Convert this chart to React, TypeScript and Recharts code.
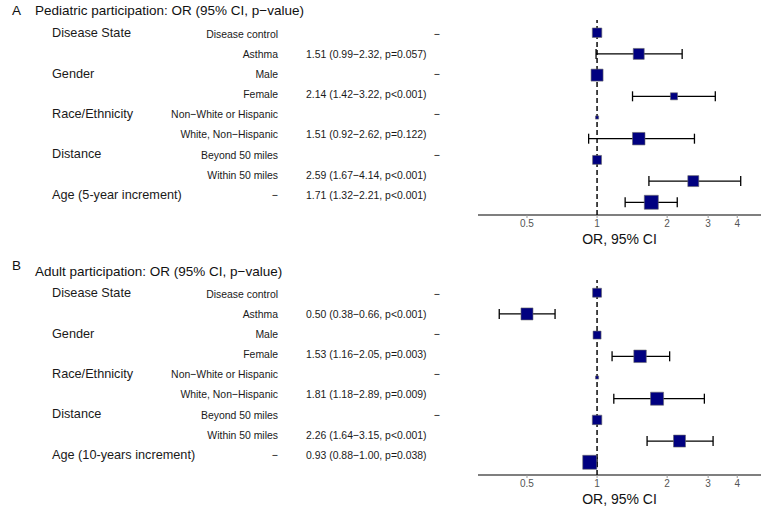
import React from "react";
import { ScatterChart, Scatter, XAxis, YAxis, ZAxis, ErrorBar, ReferenceLine } from "recharts";

// ---------- Data ----------
const xTicks = [0.5, 1, 2, 3, 4];

const groupLabelsA = ["Disease State", "", "Gender", "", "Race/Ethnicity", "", "Distance", "", "Age (5-year increment)"];
const subgroupLabelsA = ["Disease control", "Asthma", "Male", "Female", "Non\u2212White or Hispanic", "White, Non\u2212Hispanic", "Beyond 50 miles", "Within 50 miles", "\u2212"];
const orTextA = ["\u2212", "1.51 (0.99\u22122.32, p=0.057)", "\u2212", "2.14 (1.42\u22123.22, p<0.001)", "\u2212", "1.51 (0.92\u22122.62, p=0.122)", "\u2212", "2.59 (1.67\u22124.14, p<0.001)", "1.71 (1.32\u22122.21, p<0.001)"];
const orA = [1, 1.51, 1, 2.14, 1, 1.51, 1, 2.59, 1.71];
const lowerA: (number | null)[] = [null, 0.99, null, 1.42, null, 0.92, null, 1.67, 1.32];
const upperA: (number | null)[] = [null, 2.32, null, 3.22, null, 2.62, null, 4.14, 2.21];
const weightsA = [45, 60, 72, 25, 5, 78, 40, 60, 98];

const groupLabelsB = ["Disease State", "", "Gender", "", "Race/Ethnicity", "", "Distance", "", "Age (10-years increment)"];
const subgroupLabelsB = ["Disease control", "Asthma", "Male", "Female", "Non\u2212White or Hispanic", "White, Non\u2212Hispanic", "Beyond 50 miles", "Within 50 miles", "\u2212"];
const orTextB = ["\u2212", "0.50 (0.38\u22120.66, p<0.001)", "\u2212", "1.53 (1.16\u22122.05, p=0.003)", "\u2212", "1.81 (1.18\u22122.89, p=0.009)", "\u2212", "2.26 (1.64\u22123.15, p<0.001)", "0.93 (0.88\u22121.00, p=0.038)"];
const orB = [1, 0.5, 1, 1.53, 1, 1.81, 1, 2.26, 0.93];
const lowerB: (number | null)[] = [null, 0.38, null, 1.16, null, 1.18, null, 1.64, 0.88];
const upperB: (number | null)[] = [null, 0.66, null, 2.05, null, 2.89, null, 3.15, 1.0];
const weightsB = [40, 72, 32, 78, 5, 85, 45, 72, 98];

const titleA = "Pediatric participation: OR (95% CI, p\u2212value)";
const titleB = "Adult participation: OR (95% CI, p\u2212value)";

// ---------- Layout ----------
const W = 763;
const PANEL_H = 247;
const FONT = "'Liberation Sans', Arial, Helvetica, sans-serif";
const SMALL = 11.6;
const SQX = 0.9;

type PanelProps = {
  top: number;
  letter: string;
  letterY: number;
  title: string;
  titleY: number;
  groups: string[];
  subgroups: string[];
  orText: string[];
  or: number[];
  lower: (number | null)[];
  upper: (number | null)[];
  weights: number[];
};

function Narrow(props: { x: number; y: number; anchor: "start" | "middle" | "end"; children: string }) {
  return (
    <text
      transform={`translate(${props.x},${props.y}) scale(${SQX},1)`}
      x={0}
      y={0}
      fontSize={SMALL}
      fill="#1a1a1a"
      textAnchor={props.anchor}
      dominantBaseline="central"
    >
      {props.children}
    </text>
  );
}

function Panel(p: PanelProps) {
  const rows = p.or.map((v, i) => ({
    row: i,
    or: v,
    w: p.weights[i],
    err: p.lower[i] != null ? [v - (p.lower[i] as number), (p.upper[i] as number) - v] : null,
  }));
  const refRows = rows.filter((r) => r.err == null);
  const estRows = rows.filter((r) => r.err != null);
  const rowY = (i: number) => 33.4 + i * 20.15;

  return (
    <div style={{ position: "absolute", left: 0, top: p.top, width: W, height: PANEL_H }}>
      <div style={{ position: "absolute", left: 0, top: 0 }}>
        <ScatterChart width={W} height={PANEL_H} margin={{ top: 20, right: 2, left: 478, bottom: 0 }}>
          <XAxis
            type="number"
            dataKey="or"
            scale="log"
            domain={[0.308, 5.06]}
            allowDataOverflow
            ticks={xTicks}
            tickFormatter={(v: number) => String(v)}
            height={32}
            tickSize={3}
            tickMargin={2}
            axisLine={{ stroke: "#000", strokeWidth: 1.2 }}
            tickLine={{ stroke: "#999" }}
            tick={{ fill: "#555", fontSize: 10, fontFamily: FONT }}
            label={{ value: "OR, 95% CI", position: "insideBottom", offset: 3, fill: "#111", fontSize: 14, fontFamily: FONT }}
          />
          <YAxis type="number" dataKey="row" domain={[-0.6, 8.6]} reversed hide />
          <ZAxis type="number" dataKey="w" domain={[0, 100]} range={[0, 200]} />
          <ReferenceLine x={1} stroke="#333" strokeWidth={1.8} strokeDasharray="5 3" ifOverflow="visible" />
          <Scatter data={estRows} shape="square" fill="#000080" stroke="#6a6a6a" strokeWidth={0.6} isAnimationActive={false}>
            <ErrorBar dataKey="err" direction="x" width={5} stroke="#000" strokeWidth={1.3} />
          </Scatter>
          <Scatter data={refRows} shape="square" fill="#000080" stroke="#6a6a6a" strokeWidth={0.6} isAnimationActive={false} />
        </ScatterChart>
      </div>
      <svg width={W} height={PANEL_H} style={{ position: "absolute", left: 0, top: 0, pointerEvents: "none", overflow: "visible" }} fontFamily={FONT}>
        <text x={12} y={p.letterY} fontSize={13.5} fill="#111" dominantBaseline="central">{p.letter}</text>
        <text x={35} y={p.titleY} fontSize={13.5} fill="#111" dominantBaseline="central">{p.title}</text>
        {p.groups.map((g, i) =>
          g ? (
            <text key={"g" + i} x={52} y={rowY(i)} fontSize={12.7} fill="#1a1a1a" dominantBaseline="central">{g}</text>
          ) : null
        )}
        {p.subgroups.map((s, i) => (
          <Narrow key={"s" + i} x={278} y={rowY(i)} anchor="end">{s}</Narrow>
        ))}
        {p.orText.map((t, i) =>
          t === "\u2212" ? (
            <Narrow key={"o" + i} x={437} y={rowY(i)} anchor="middle">{t}</Narrow>
          ) : (
            <Narrow key={"o" + i} x={306} y={rowY(i)} anchor="start">{t}</Narrow>
          )
        )}
      </svg>
    </div>
  );
}

export default function App() {
  return (
    <div style={{ position: "absolute", left: 0, top: 0, width: W, height: 507, background: "#fff", fontFamily: FONT }}>
      <Panel
        top={0}
        letter="A"
        letterY={10}
        title={titleA}
        titleY={10}
        groups={groupLabelsA}
        subgroups={subgroupLabelsA}
        orText={orTextA}
        or={orA}
        lower={lowerA}
        upper={upperA}
        weights={weightsA}
      />
      <Panel
        top={260}
        letter="B"
        letterY={5}
        title={titleB}
        titleY={11.5}
        groups={groupLabelsB}
        subgroups={subgroupLabelsB}
        orText={orTextB}
        or={orB}
        lower={lowerB}
        upper={upperB}
        weights={weightsB}
      />
    </div>
  );
}
